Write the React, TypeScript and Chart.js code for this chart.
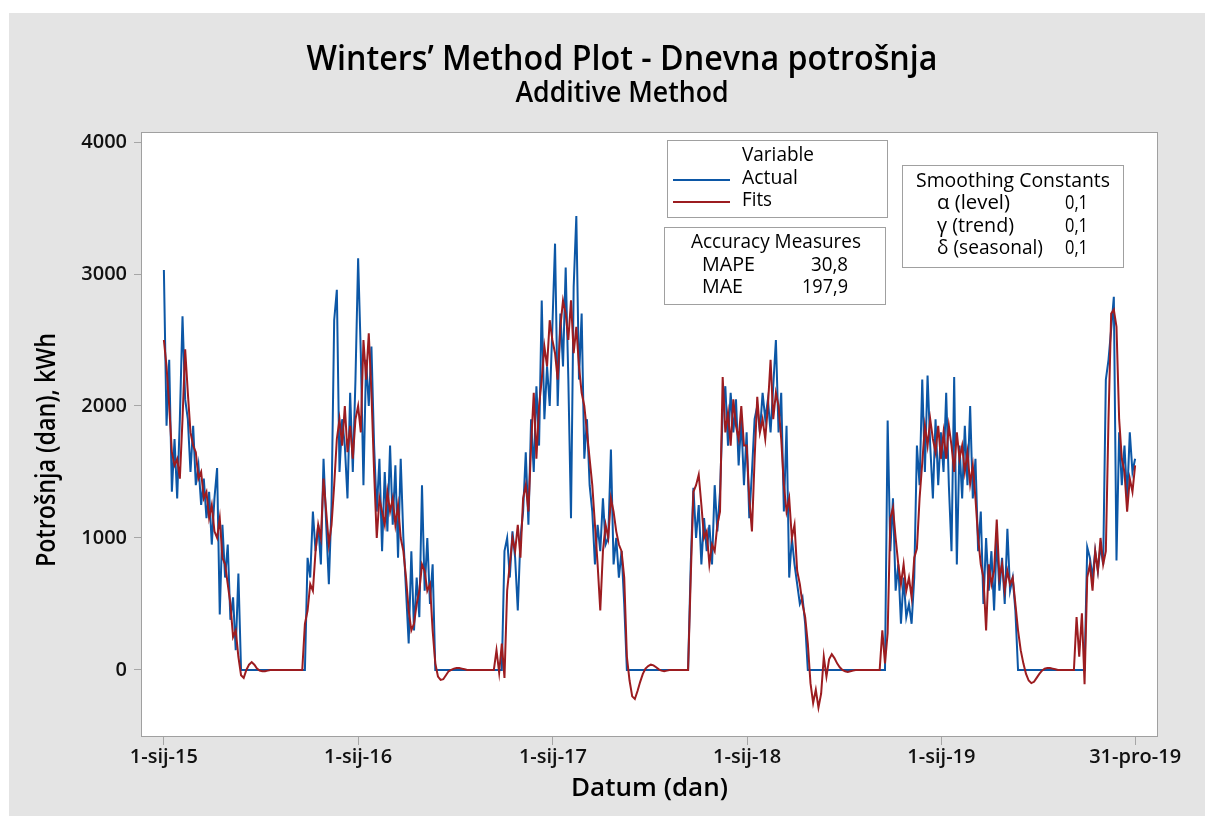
import React, { useEffect, useRef } from "react";
import { Chart, registerables } from "chart.js";

Chart.register(...registerables);

// ---- data (daily series read every 5 days; day 0 = 1-sij-15) ----
const STEP_DAYS = 5;
const segmentStartDays = [0, 365, 730, 1095, 1460];

const actual2015 = [
  3030, 1850, 2350, 1350, 1750, 1300, 1900, 2680, 2050, 1900, 1500, 1850, 1400, 1550, 1250, 1450, 1150, 1350, 950, 1300,
  1530, 420, 1100, 700, 950, 380, 550, 150, 730,
  0, 0, 0, 0, 0, 0, 0, 0, 0, 0, 0, 0, 0, 0, 0, 0, 0, 0, 0, 0, 0, 0, 0, 0, 0,
  850, 700, 1200, 900, 1100, 800, 1600, 1100, 650, 1250, 2650, 2880, 1500, 1900, 1700, 1300, 2100, 1500, 2200,
];
const fits2015 = [
  2500, 2300, 2000, 1650, 1550, 1600, 1450, 1900, 2430, 2100, 1800, 1700, 1650, 1450, 1500, 1300, 1350, 1150, 1250, 1050,
  1000, 1150, 850, 800, 650, 500, 250, 300, 100,
  -40, -60, 0, 40, 60, 40, 10, -5, -10, -10, -5,
  0, 0, 0, 0, 0, 0, 0, 0, 0, 0, 0, 0, 0,
  350, 450, 650, 600, 900, 1100, 1000, 1450, 1200, 950, 1100, 1400, 1750, 1900, 1700, 2000, 1650, 1850, 1600, 1900,
];
const actual2016 = [
  3120, 2400, 1400, 2350, 2000, 2450, 1700, 1200, 1600, 900, 1500, 1050, 1700, 1100, 1550, 850, 1600, 1000, 600, 200,
  900, 300, 700, 400, 1400, 600, 1000, 500, 800,
  0, 0, 0, 0, 0, 0, 0, 0, 0, 0, 0, 0, 0, 0, 0, 0, 0, 0, 0, 0, 0, 0, 0, 0, 0, 0,
  900, 1000, 700, 1050, 850, 450, 1000, 1200, 1650, 1100, 1900, 1500, 2150, 1700, 2800, 1900, 2300, 2000,
];
const fits2016 = [
  2000, 1800, 2500, 2200, 2550, 2100, 1500, 1000, 1300, 1200, 1100, 1350, 1200, 1300, 1100, 1250, 1000, 900, 700, 450,
  300, 350, 500, 600, 800, 750, 600, 650, 300,
  50, -50, -75, -70, -40, -10, 0, 10, 15, 15, 10, 5,
  0, 0, 0, 0, 0, 0, 0, 0, 0, 0, 0,
  150, -20, 200, -60, 600, 800, 1000, 900, 1100, 850, 1300, 1400, 1200, 1700, 2100, 1600, 2000, 2200, 2450, 2300, 2650,
];
const actual2017 = [
  2600, 3230, 2000, 2700, 2300, 3050, 2200, 1150, 2900, 3440, 2200, 2700, 1600, 1900, 1400, 1200, 800, 1100, 900, 1300,
  950, 1000, 1670, 800, 1000, 700, 900, 500,
  0, 0, 0, 0, 0, 0, 0, 0, 0, 0, 0, 0, 0, 0, 0, 0, 0, 0, 0, 0, 0, 0, 0, 0,
  800, 1380, 1000, 1250, 800, 1150, 900, 1100, 800, 1400, 1050, 1350, 1950, 2150, 1700, 2100, 1800, 2050, 1550, 1900, 1400,
];
const fits2017 = [
  2500, 2400, 2200, 2600, 2800, 2700, 2500, 2800, 2400, 2600, 2300, 2100, 2000, 1800, 1600, 1400, 1100, 800, 450, 900,
  1100, 1000, 1300, 1200, 1050, 950, 900, 700,
  100, -80, -200, -220, -160, -90, -30, 10, 30, 40, 35, 20, 5, -5, -10, -5,
  0, 0, 0, 0, 0, 0, 0, 0,
  700, 1350, 1400, 1480, 1250, 1000, 1050, 800, 950, 900, 1100, 1200, 2220, 1800, 1950, 1700, 2050, 1850, 1750, 2000, 1700,
];
const actual2018 = [
  1800, 1150, 1500, 1900, 2000, 1800, 2100, 1900, 2050, 1800, 2150, 2500, 1800, 2100, 1200, 1850, 700, 1000, 800, 650,
  500, 550, 350,
  0, 0, 0, 0, 0, 0, 0, 0, 0, 0, 0, 0, 0, 0, 0, 0, 0, 0, 0, 0, 0, 0, 0, 0, 0, 0, 0, 0, 0, 0,
  1890, 900, 1300, 600, 800, 350, 700, 400, 500, 350, 700, 1700, 1400, 2200, 1500, 2230, 1700, 1300, 1900, 1400,
];
const fits2018 = [
  1700, 1300, 1050, 1600, 2070, 1800, 1900, 1750, 2000, 2350, 1900, 2100, 2000, 1750, 1400, 1200, 1300, 1000, 1100, 750,
  650, 500, 400,
  200, -100, -250, -150, -285, -180, 100, -50, 80, 120, 90, 50, 20, 0, -10, -15, -10, -5,
  0, 0, 0, 0, 0, 0, 0, 0, 0, 0,
  300, 50, 280, 1150, 1230, 1000, 800, 650, 800, 600, 700, 550, 850, 920, 1300, 1570, 1850, 1700, 1900, 1750, 1650, 1850,
];
const actual2019 = [
  1800, 1500, 2100, 1400, 900, 2220, 800, 1700, 1300, 1850, 1400, 2000, 1300, 1600, 900, 1200, 500, 1000, 600, 900,
  450, 1000, 600, 850, 500, 1070, 600, 700, 450,
  0, 0, 0, 0, 0, 0, 0, 0, 0, 0, 0, 0, 0, 0, 0, 0, 0, 0, 0, 0, 0, 0, 0, 0, 0, 0,
  930, 850, 700, 900, 750, 940, 800, 2200, 2350, 2580, 2828, 830, 1800, 1400, 1700, 1300, 1800, 1500, 1600,
];
const fits2019 = [
  1600, 1800, 1600, 1850, 1700, 1500, 1800, 1600, 1700, 1500, 1650, 1410, 1550, 1300, 1000, 800, 700, 300, 800, 650,
  750, 1140, 700, 800, 600, 750, 650, 700, 500,
  300, 150, 50, -30, -80, -100, -90, -60, -30, -5, 10, 15, 15, 10, 5,
  0, 0, 0, 0, 0, 0, 0,
  400, 100, 430, -108, 700, 800, 600, 900, 750, 1000, 800, 900, 1900, 2700, 2730, 2600, 1900, 1600, 1500, 1200, 1450, 1350, 1550,
];

const actualSegments = [actual2015, actual2016, actual2017, actual2018, actual2019];
const fitsSegments = [fits2015, fits2016, fits2017, fits2018, fits2019];

const xTickDays = [0, 365, 731, 1096, 1461, 1825];
const xTickLabels = ["1-sij-15", "1-sij-16", "1-sij-17", "1-sij-18", "1-sij-19", "31-pro-19"];
const yTickValues = [0, 1000, 2000, 3000, 4000];

const seriesNames = ["Actual", "Fits"];
const accuracyNames = ["MAPE", "MAE"];
const accuracyValues = ["30,8", "197,9"];
const smoothingNames = ["α (level)", "γ (trend)", "δ (seasonal)"];
const smoothingValues = ["0,1", "0,1", "0,1"];

const BLUE = "#0c57a6";
const RED = "#9c1c20";
const FONT = '"Open Sans", "Noto Sans", sans-serif';

function toPoints(segments: number[][]) {
  const pts: { x: number; y: number }[] = [];
  segments.forEach((seg, k) => {
    seg.forEach((v, i) => pts.push({ x: segmentStartDays[k] + i * STEP_DAYS, y: v }));
  });
  return pts;
}

function drawText(
  ctx: CanvasRenderingContext2D,
  text: string,
  x: number,
  baseline: number,
  cap: number,
  align: CanvasTextAlign,
  width?: number,
  weight = "400",
  rotate = false
) {
  const size = cap / 0.714;
  ctx.save();
  ctx.font = `${weight} ${size}px ${FONT}`;
  const w = ctx.measureText(text).width;
  const sx = width ? width / w : 1;
  ctx.translate(x, baseline);
  if (rotate) ctx.rotate(-Math.PI / 2);
  ctx.scale(sx, 1);
  ctx.textAlign = align;
  ctx.textBaseline = "alphabetic";
  ctx.fillStyle = "#000";
  ctx.fillText(text, 0, 0);
  ctx.restore();
}

function box(ctx: CanvasRenderingContext2D, x1: number, y1: number, x2: number, y2: number) {
  ctx.save();
  ctx.fillStyle = "#fff";
  ctx.fillRect(x1, y1, x2 - x1, y2 - y1);
  ctx.strokeStyle = "#a0a0a0";
  ctx.lineWidth = 1;
  ctx.strokeRect(x1 + 0.5, y1 + 0.5, x2 - x1, y2 - y1);
  ctx.restore();
}

const decorPlugin = {
  id: "decor",
  beforeDraw(chart: any) {
    const ctx = chart.ctx as CanvasRenderingContext2D;
    const { width, height } = chart;
    const a = chart.chartArea;
    ctx.save();
    ctx.fillStyle = "#ffffff";
    ctx.fillRect(0, 0, width, height);
    ctx.fillStyle = "#e4e4e4";
    ctx.fillRect(9, 13, width - 9, height - 13);
    ctx.fillStyle = "#ffffff";
    ctx.fillRect(a.left, a.top, a.right - a.left, a.bottom - a.top);
    ctx.restore();
  },
  afterDatasetsDraw(chart: any) {
    const ctx = chart.ctx as CanvasRenderingContext2D;
    const a = chart.chartArea;
    ctx.save();
    ctx.strokeStyle = "#a0a0a0";
    ctx.lineWidth = 1;
    ctx.strokeRect(a.left + 0.5, a.top + 0.5, a.right - a.left - 1, a.bottom - a.top - 1);
    ctx.restore();
  },
  afterDraw(chart: any) {
    const ctx = chart.ctx as CanvasRenderingContext2D;
    const a = chart.chartArea;
    // titles
    drawText(ctx, "Winters’ Method Plot - Dnevna potrošnja", 622, 70, 25, "center", 631, "600");
    drawText(ctx, "Additive Method", 622, 102, 20, "center", 213, "600");
    // axis titles
    drawText(ctx, "Datum (dan)", (a.left + a.right) / 2, 796, 18, "center", 157, "600");
    drawText(ctx, "Potrošnja (dan), kWh", 55, 450, 19, "center", 234, "600", true);

    // legend box
    box(ctx, 667, 140, 887, 217);
    drawText(ctx, "Variable", 742, 161, 14, "left", 72, "500");
    const colors = [BLUE, RED];
    const lineY = [180, 202];
    const textBase = [184, 206];
    const nameW = [56, 30];
    seriesNames.forEach((n, i) => {
      ctx.save();
      ctx.strokeStyle = colors[i];
      ctx.lineWidth = 2;
      ctx.beginPath();
      ctx.moveTo(673, lineY[i]);
      ctx.lineTo(730, lineY[i]);
      ctx.stroke();
      ctx.restore();
      drawText(ctx, n, 742, textBase[i], 14, "left", nameW[i], "500");
    });

    // accuracy box
    box(ctx, 664, 227, 885, 304);
    drawText(ctx, "Accuracy Measures", 776, 248, 14, "center", 170, "500");
    const accBase = [271, 293];
    const accNameW = [53, 41];
    const accValW = [37, 46];
    accuracyNames.forEach((n, i) => {
      drawText(ctx, n, 702, accBase[i], 14, "left", accNameW[i], "500");
      drawText(ctx, accuracyValues[i], 848, accBase[i], 14, "right", accValW[i], "500");
    });

    // smoothing box
    box(ctx, 902, 165, 1123, 267);
    drawText(ctx, "Smoothing Constants", 1013, 187, 14, "center", 194, "500");
    const smBase = [209, 231.5, 253.5];
    const smNameW = [73, 77, 106];
    smoothingNames.forEach((n, i) => {
      drawText(ctx, n, 937, smBase[i], 14, "left", smNameW[i], "500");
      drawText(ctx, smoothingValues[i], 1065, smBase[i], 14, "left", 23, "500");
    });
  },
};

export default function App() {
  const canvasRef = useRef<HTMLCanvasElement | null>(null);

  useEffect(() => {
    let chart: Chart | null = null;
    let cancelled = false;
    const make = () => {
      if (cancelled || !canvasRef.current) return;
      chart = new Chart(canvasRef.current, {
        type: "line",
        data: {
          datasets: [
            {
              label: "Fits",
              data: toPoints(fitsSegments),
              borderColor: RED,
              borderWidth: 2,
              pointRadius: 0,
              tension: 0,
              fill: false,
            },
            {
              label: "Actual",
              data: toPoints(actualSegments),
              borderColor: BLUE,
              borderWidth: 2,
              pointRadius: 0,
              tension: 0,
              fill: false,
            },
          ],
        },
        options: {
          animation: false,
          responsive: false,
          maintainAspectRatio: false,
          devicePixelRatio: 1,
          parsing: false,
          normalized: true,
          layout: { padding: { left: 0, top: 132, right: 47, bottom: 0 } },
          plugins: {
            legend: { display: false },
            tooltip: { enabled: false },
            title: { display: false },
          },
          scales: {
            x: {
              type: "linear",
              min: -43,
              max: 1868,
              afterFit: (s: any) => {
                s.height = 79;
              },
              afterBuildTicks: (s: any) => {
                s.ticks = xTickDays.map((v) => ({ value: v }));
              },
              ticks: {
                callback: (_v: any, i: number) => xTickLabels[i],
                font: { family: FONT, size: 20, weight: "600" },
                color: "#111",
                maxRotation: 0,
                minRotation: 0,
                autoSkip: false,
                padding: 0,
              },
              grid: {
                drawOnChartArea: false,
                drawTicks: true,
                tickLength: 8,
                color: "#a6a6a6",
                lineWidth: 1,
              },
              border: { display: false },
            },
            y: {
              type: "linear",
              min: -508,
              max: 4076,
              afterFit: (s: any) => {
                s.width = 141;
              },
              afterBuildTicks: (s: any) => {
                s.ticks = yTickValues.map((v) => ({ value: v }));
              },
              ticks: {
                callback: (v: any) => String(v),
                font: { family: FONT, size: 20, weight: "600" },
                color: "#111",
                padding: 7,
              },
              grid: {
                drawOnChartArea: false,
                drawTicks: true,
                tickLength: 7,
                color: "#a6a6a6",
                lineWidth: 1,
              },
              border: { display: false },
            },
          },
        },
        plugins: [decorPlugin],
      } as any);
    };
    if ((document as any).fonts && (document as any).fonts.load) {
      Promise.all([
        (document as any).fonts.load(`400 21px "Open Sans"`),
        (document as any).fonts.load(`500 21px "Open Sans"`),
        (document as any).fonts.load(`600 21px "Open Sans"`),
      ])
        .catch(() => null)
        .then(make);
    } else {
      make();
    }
    return () => {
      cancelled = true;
      if (chart) chart.destroy();
    };
  }, []);

  return (
    <div style={{ position: "absolute", left: 0, top: 0, width: 1205, height: 816, background: "#fff" }}>
      <canvas ref={canvasRef} width={1205} height={816} style={{ width: 1205, height: 816, display: "block" }} />
    </div>
  );
}
